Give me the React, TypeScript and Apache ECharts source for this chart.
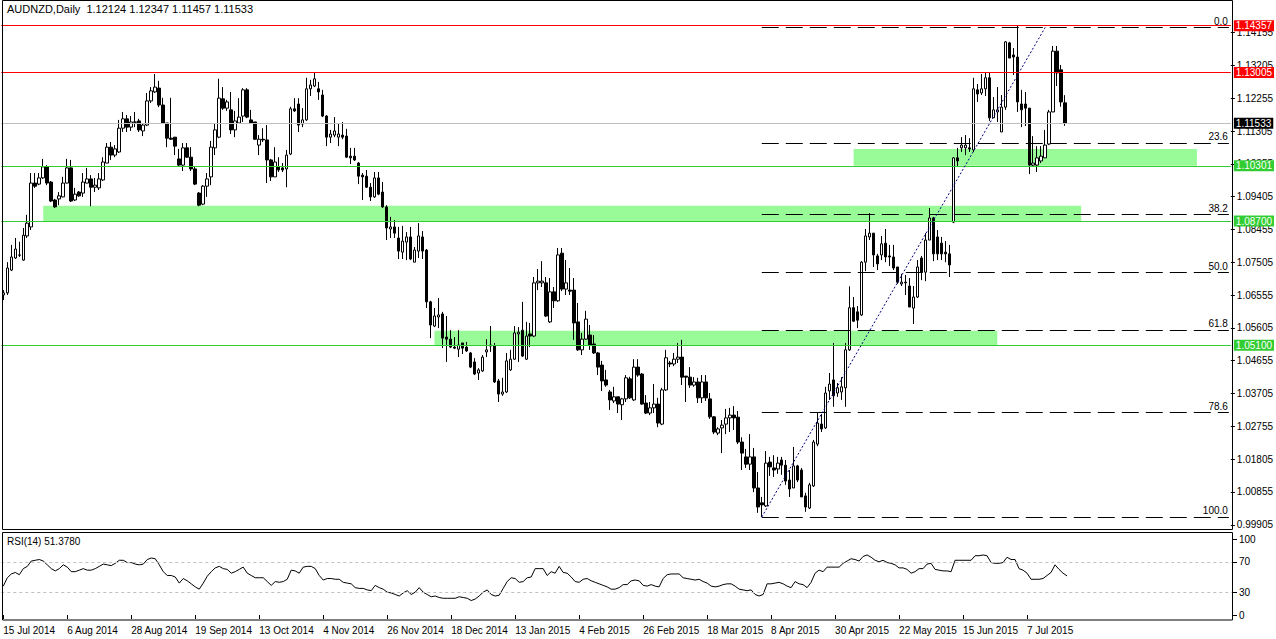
import React, { useEffect, useRef } from "react";
import * as echarts from "echarts";

const TITLE = "AUDNZD,Daily  1.12124 1.12347 1.11457 1.11533";
const RSI_TITLE = "RSI(14) 51.3780";

const open = [
  1.0656,1.0662,1.0728,1.0763,1.0771,1.0757,1.0827,1.0853,1.0980,1.0977,
  1.0995,1.1027,1.0983,1.0931,1.0934,1.0940,1.0980,1.1024,1.0931,1.0954,
  1.0951,1.0980,1.0992,1.0968,1.0966,1.0989,1.1038,1.1084,1.1061,1.1070,
  1.1139,1.1166,1.1142,1.1157,1.1160,1.1131,1.1148,1.1218,1.1244,1.1255,
  1.1206,1.1154,1.1110,1.1113,1.1050,1.1032,1.1082,1.1055,1.1021,1.0951,
  1.0919,1.0971,1.0998,1.1082,1.1113,1.1224,1.1197,1.1192,1.1134,1.1154,
  1.1174,1.1250,1.1163,1.1157,1.1090,1.1107,1.1105,1.1047,1.0998,1.1027,
  1.1024,1.1021,1.1064,1.1195,1.1209,1.1151,1.1163,1.1253,1.1261,1.1253,
  1.1235,1.1174,1.1113,1.1119,1.1113,1.1119,1.1116,1.1058,1.1058,1.1038,
  1.1003,1.1000,1.0968,1.0940,1.0995,1.0954,1.0911,1.0847,1.0853,1.0821,
  1.0780,1.0809,1.0824,1.0751,1.0783,1.0824,1.0786,1.0636,1.0566,1.0592,
  1.0601,1.0534,1.0528,1.0505,1.0499,1.0517,1.0505,1.0488,1.0462,1.0430,
  1.0436,1.0491,1.0508,1.0508,1.0407,1.0369,1.0375,1.0439,1.0470,1.0543,
  1.0554,1.0470,1.0543,1.0537,1.0691,1.0691,1.0691,1.0578,1.0665,1.0639,
  1.0777,1.0673,1.0670,1.0670,1.0578,1.0497,1.0528,1.0540,1.0514,1.0488,
  1.0453,1.0410,1.0375,1.0349,1.0361,1.0338,1.0355,1.0413,1.0352,1.0447,
  1.0427,1.0343,1.0314,1.0329,1.0340,1.0282,1.0381,1.0459,1.0456,1.0470,
  1.0476,1.0421,1.0418,1.0395,1.0404,1.0358,1.0404,1.0355,1.0303,1.0256,
  1.0271,1.0282,1.0300,1.0308,1.0302,1.0230,1.0187,1.0166,1.0187,1.0097,
  1.0054,1.0045,1.0172,1.0155,1.0152,1.0178,1.0163,1.0120,1.0097,1.0161,
  1.0149,1.0074,1.0039,1.0103,1.0224,1.0282,1.0271,1.0378,1.0410,1.0372,
  1.0375,1.0387,1.0497,1.0619,1.0607,1.0598,1.0751,1.0824,1.0835,1.0769,
  1.0772,1.0806,1.0769,1.0766,1.0737,1.0688,1.0693,1.0682,1.0618,1.0650,
  1.0763,1.0722,1.0815,1.0879,1.0824,1.0806,1.0780,1.0775,1.0867,1.1053,
  1.1082,1.1082,1.1082,1.1076,1.1250,1.1241,1.1253,1.1285,1.1169,1.1186,
  1.1128,1.1200,1.1386,1.1351,1.1345,1.1209,1.1209,1.1197,1.1032,1.1032,
  1.1044,1.1053,1.1093,1.1186,1.1362,1.1308,1.12124,
];

const high = [
  1.0670,1.0751,1.0801,1.0821,1.0810,1.0850,1.0888,1.1009,1.1009,1.1009,
  1.1050,1.1032,1.0986,1.0934,1.0954,1.0998,1.1050,1.1047,1.0966,1.0957,
  1.1009,1.1024,1.1003,1.0995,1.1009,1.1055,1.1096,1.1099,1.1090,1.1163,
  1.1186,1.1177,1.1174,1.1186,1.1166,1.1154,1.1241,1.1258,1.1296,1.1276,
  1.1227,1.1154,1.1227,1.1113,1.1079,1.1096,1.1096,1.1084,1.1027,1.0954,
  1.0974,1.1009,1.1102,1.1151,1.1282,1.1258,1.1221,1.1244,1.1189,1.1226,
  1.1255,1.1255,1.1192,1.1157,1.1119,1.1139,1.1148,1.1050,1.1084,1.1055,
  1.1038,1.1076,1.1201,1.1226,1.1226,1.1197,1.1285,1.1279,1.1299,1.1273,
  1.1250,1.1177,1.1134,1.1171,1.1151,1.1157,1.1137,1.1082,1.1082,1.1041,
  1.1009,1.1018,1.0980,1.1012,1.1012,1.0983,1.0916,1.0882,1.0873,1.0853,
  1.0856,1.0838,1.0853,1.0795,1.0864,1.0841,1.0789,1.0639,1.0618,1.0647,
  1.0607,1.0595,1.0554,1.0534,1.0554,1.0517,1.0520,1.0491,1.0473,1.0444,
  1.0482,1.0528,1.0566,1.0517,1.0413,1.0416,1.0488,1.0497,1.0566,1.0563,
  1.0636,1.0578,1.0575,1.0708,1.0731,1.0754,1.0708,1.0705,1.0679,1.0792,
  1.0792,1.0757,1.0734,1.0705,1.0633,1.0546,1.0610,1.0569,1.0540,1.0491,
  1.0465,1.0439,1.0381,1.0390,1.0361,1.0358,1.0424,1.0419,1.0470,1.0470,
  1.0430,1.0366,1.0346,1.0398,1.0358,1.0387,1.0497,1.0465,1.0488,1.0517,
  1.0526,1.0421,1.0447,1.0418,1.0416,1.0424,1.0424,1.0372,1.0305,1.0273,
  1.0294,1.0326,1.0329,1.0334,1.0320,1.0244,1.0210,1.0253,1.0213,1.0143,
  1.0071,1.0204,1.0187,1.0192,1.0187,1.0187,1.0178,1.0149,1.0216,1.0164,
  1.0155,1.0083,1.0112,1.0236,1.0314,1.0311,1.0390,1.0430,1.0517,1.0401,
  1.0418,1.0517,1.0681,1.0650,1.0624,1.0754,1.0847,1.0893,1.0835,1.0775,
  1.0827,1.0847,1.0801,1.0801,1.0737,1.0717,1.0714,1.0705,1.0682,1.0757,
  1.0769,1.0835,1.0908,1.0882,1.0844,1.0824,1.0812,1.0801,1.1055,1.1082,
  1.1113,1.1119,1.1110,1.1285,1.1267,1.1296,1.1299,1.1299,1.1229,1.1258,
  1.1235,1.1391,1.1389,1.1371,1.14357,1.1250,1.1244,1.1197,1.1116,1.1087,
  1.1087,1.1134,1.1192,1.1377,1.1377,1.1322,1.12347,
];

const low = [
  1.0641,1.0656,1.0725,1.0760,1.0766,1.0755,1.0821,1.0844,1.0966,1.0974,
  1.0992,1.0974,1.0925,1.0908,1.0916,1.0939,1.0979,1.0925,1.0928,1.0940,
  1.0940,1.0979,1.0913,1.0954,1.0960,1.0986,1.1038,1.1047,1.1055,1.1067,
  1.1128,1.1128,1.1131,1.1142,1.1128,1.1116,1.1145,1.1212,1.1241,1.1200,
  1.1151,1.1084,1.1105,1.1061,1.1029,1.1015,1.1053,1.1015,1.0974,1.0913,
  1.0916,1.0940,1.0974,1.1061,1.1110,1.1192,1.1189,1.1122,1.1113,1.1151,
  1.1157,1.1168,1.1154,1.1105,1.1061,1.1099,1.0980,1.0986,1.0998,1.1012,
  1.1012,1.0968,1.1061,1.1186,1.1128,1.1142,1.1160,1.1232,1.1258,1.1221,
  1.1171,1.1087,1.1096,1.1113,1.1087,1.1107,1.1053,1.1035,1.1044,1.0977,
  1.0931,1.0966,1.0928,1.0937,1.0945,1.0908,1.0815,1.0821,1.0821,1.0760,
  1.0760,1.0757,1.0757,1.0751,1.0763,1.0760,1.0618,1.0531,1.0563,1.0560,
  1.0502,1.0462,1.0502,1.0499,1.0476,1.0485,1.0491,1.0444,1.0424,1.0410,
  1.0433,1.0476,1.0491,1.0401,1.0346,1.0364,1.0372,1.0436,1.0468,1.0462,
  1.0476,1.0468,1.0505,1.0534,1.0670,1.0679,1.0592,1.0575,1.0618,1.0636,
  1.0667,1.0656,1.0656,1.0526,1.0494,1.0482,1.0526,1.0497,1.0485,1.0424,
  1.0378,1.0390,1.0323,1.0343,1.0314,1.0294,1.0346,1.0355,1.0349,1.0419,
  1.0338,1.0311,1.0308,1.0314,1.0273,1.0279,1.0378,1.0447,1.0450,1.0459,
  1.0395,1.0346,1.0387,1.0390,1.0343,1.0343,1.0349,1.0297,1.0253,1.0250,
  1.0198,1.0253,1.0259,1.0265,1.0224,1.0149,1.0155,1.0149,1.0085,1.0025,
  1.0013,1.0042,1.0132,1.0129,1.0138,1.0135,1.0106,1.0071,1.0097,1.0114,
  1.0071,1.0028,1.0036,1.0100,1.0218,1.0259,1.0268,1.0352,1.0332,1.0361,
  1.0352,1.0332,1.0494,1.0578,1.0560,1.0595,1.0725,1.0815,1.0737,1.0728,
  1.0757,1.0751,1.0740,1.0728,1.0688,1.0682,1.0656,1.0621,1.0572,1.0647,
  1.0699,1.0696,1.0815,1.0754,1.0757,1.0757,1.0751,1.0708,1.0864,1.1027,
  1.1070,1.1061,1.1070,1.1070,1.1215,1.1235,1.1232,1.1160,1.1169,1.1157,
  1.1128,1.1192,1.1342,1.1293,1.1186,1.1142,1.1145,1.1006,1.1027,1.1012,
  1.1038,1.1053,1.1090,1.1186,1.1261,1.1201,1.11457,
];

const close = [
  1.0662,1.0734,1.0766,1.0789,1.0772,1.0829,1.0864,1.0980,1.0971,1.0995,
  1.1027,1.0980,1.0928,1.0911,1.0943,1.0980,1.1024,1.0928,1.0948,1.0943,
  1.0983,1.0992,1.0968,1.0974,1.0992,1.1041,1.1084,1.1061,1.1079,1.1139,
  1.1166,1.1142,1.1157,1.1156,1.1134,1.1148,1.1218,1.1247,1.1258,1.1206,
  1.1154,1.1110,1.1107,1.1087,1.1032,1.1082,1.1055,1.1021,1.0977,1.0916,
  1.0971,1.0992,1.1084,1.1134,1.1226,1.1197,1.1215,1.1134,1.1160,1.1171,
  1.1250,1.1171,1.1154,1.1107,1.1107,1.1105,1.1047,1.0998,1.1041,1.1018,
  1.1018,1.1061,1.1195,1.1189,1.1148,1.1163,1.1253,1.1264,1.1282,1.1244,
  1.1174,1.1113,1.1122,1.1131,1.1122,1.1113,1.1055,1.1053,1.1047,1.1000,
  1.0998,1.0968,1.0940,1.0995,1.0948,1.0911,1.0850,1.0853,1.0835,1.0783,
  1.0812,1.0824,1.0760,1.0786,1.0827,1.0783,1.0636,1.0569,1.0595,1.0598,
  1.0531,1.0528,1.0505,1.0502,1.0511,1.0502,1.0494,1.0447,1.0427,1.0439,
  1.0476,1.0497,1.0511,1.0404,1.0369,1.0375,1.0465,1.0470,1.0546,1.0548,
  1.0479,1.0537,1.0537,1.0691,1.0696,1.0696,1.0595,1.0665,1.0639,1.0772,
  1.0673,1.0691,1.0667,1.0575,1.0497,1.0528,1.0586,1.0511,1.0488,1.0447,
  1.0407,1.0395,1.0352,1.0361,1.0340,1.0355,1.0416,1.0358,1.0447,1.0424,
  1.0340,1.0314,1.0329,1.0340,1.0285,1.0381,1.0474,1.0456,1.0470,1.0476,
  1.0418,1.0418,1.0395,1.0404,1.0358,1.0404,1.0358,1.0303,1.0259,1.0268,
  1.0279,1.0300,1.0308,1.0300,1.0230,1.0198,1.0166,1.0187,1.0097,1.0042,
  1.0048,1.0169,1.0158,1.0149,1.0169,1.0163,1.0117,1.0094,1.0161,1.0120,
  1.0071,1.0042,1.0106,1.0230,1.0285,1.0268,1.0372,1.0398,1.0364,1.0387,
  1.0390,1.0497,1.0619,1.0580,1.0583,1.0751,1.0827,1.0835,1.0772,1.0746,
  1.0804,1.0766,1.0766,1.0734,1.0693,1.0693,1.0691,1.0621,1.0650,1.0737,
  1.0722,1.0815,1.0879,1.0775,1.0775,1.0775,1.0775,1.0743,1.1053,1.1044,
  1.1090,1.1090,1.1079,1.1253,1.1238,1.1253,1.1285,1.1169,1.1192,1.1192,
  1.1200,1.1389,1.1342,1.1345,1.1215,1.1192,1.1197,1.1032,1.1038,1.1053,
  1.1058,1.1090,1.1186,1.1362,1.1299,1.1215,1.11533,
];

const rsi = [
  38,49,54,56,53,61,64,71,72,73,
  71,66,61,58,61,66,63,57,57,59,
  61,59,59,61,64,67,66,65,68,72,
  72,69,69,67,66,67,73,75,74,66,
  57,52,52,50,42,48,45,41,37,34,
  42,51,57,62,64,61,60,55,57,60,
  63,55,52,49,49,49,44,39,44,43,
  44,47,59,58,55,63,64,64,61,52,
  46,48,48,47,47,43,42,41,36,35,
  35,33,32,39,36,34,30,29,27,25,
  29,32,27,30,36,30,27,24,25,23,
  22,22,22,22,24,23,22,19,21,25,
  30,33,27,25,26,35,44,49,48,43,
  44,49,50,61,61,61,52,57,55,64,
  56,55,50,44,43,47,48,45,43,41,
  39,37,34,34,36,40,40,45,46,45,
  39,38,40,38,37,48,53,54,54,54,
  49,48,47,46,47,44,42,38,37,38,
  40,41,41,38,34,33,32,33,27,25,
  27,41,41,42,43,41,38,36,44,41,
  40,36,43,55,59,57,63,63,63,63,
  68,71,74,73,71,77,79,76,72,70,
  72,69,68,66,62,62,60,55,57,61,
  61,67,68,60,59,58,58,57,72,72,
  72,72,72,78,78,79,78,69,68,68,
  69,76,73,73,61,59,55,47,47,47,
  48,52,56,66,60,55,51.378,
];

const dateLabels = [
  "15 Jul 2014", "6 Aug 2014", "28 Aug 2014", "19 Sep 2014", "13 Oct 2014",
  "4 Nov 2014", "26 Nov 2014", "18 Dec 2014", "13 Jan 2015", "4 Feb 2015",
  "26 Feb 2015", "18 Mar 2015", "8 Apr 2015", "30 Apr 2015", "22 May 2015",
  "15 Jun 2015", "7 Jul 2015",
];
const LABEL_STEP = 16;
const SLOT_COUNT = 308;

const priceTicks = [
  0.99905, 1.00855, 1.01805, 1.02755, 1.03705, 1.04655, 1.05605, 1.06555,
  1.07505, 1.08455, 1.09405, 1.10355, 1.11305, 1.12255, 1.13205, 1.14155,
];
const rsiTicks = [0, 30, 70, 100];
const rsiLevels = [70, 30];

const PRICE_MIN = 0.99782;
const PRICE_MAX = 1.15044;

const levelPrices = [1.14357, 1.13005, 1.11533, 1.10301, 1.087, 1.051];
const levelKinds = ["resist", "resist", "current", "support", "support", "support"];

const zoneStart = [10, 213, 108];
const zoneEnd = [270, 299, 249];
const zoneTop = [1.0914, 1.1079, 1.0552];
const zoneBottom = [1.087, 1.103, 1.051];

const fibRatios = [0, 23.6, 38.2, 50, 61.8, 78.6, 100];
const fibHigh = 1.1431;
const fibLow = 1.0013;
const fibLowIndex = 190;
const fibHighIndex = 261;

const FONT = '"Liberation Sans", Arial, sans-serif';

const kindStyle: Record<string, { line: string; box: string }> = {
  resist: { line: "#ff0000", box: "#ff0000" },
  current: { line: "#c0c0c0", box: "#000000" },
  support: { line: "#32cd32", box: "#32cd32" },
};

function buildOption() {
  const slots = Array.from({ length: SLOT_COUNT }, (_, i) => String(i));
  const candles = open.map((o, i) => [o, close[i], low[i], high[i]]);

  const levelLines = levelPrices.map((p, i) => {
    const st = kindStyle[levelKinds[i]];
    return {
      yAxis: p,
      lineStyle: { color: st.line, width: 1, type: "solid" },
      label: {
        show: true,
        position: "end",
        distance: 3,
        formatter: p.toFixed(5),
        color: "#ffffff",
        backgroundColor: st.box,
        padding: [1, 2, 0, 2],
        fontSize: 10,
        lineHeight: 10,
        fontFamily: FONT,
      },
    };
  });

  const fibLines = fibRatios.map((r) => {
    const price = fibHigh - (r / 100) * (fibHigh - fibLow);
    return [
      {
        coord: [fibLowIndex, price],
        lineStyle: { color: "#000000", width: 1, type: [17, 7] },
        label: {
          show: true,
          position: "insideEndTop",
          distance: 1,
          formatter: r.toFixed(1),
          color: "#000000",
          fontSize: 10,
          fontFamily: FONT,
        },
      },
      { coord: [SLOT_COUNT - 1, price] },
    ];
  });

  const trend = [
    {
      coord: [fibLowIndex, fibLow],
      lineStyle: { color: "#000080", width: 1, type: [2, 2] },
      label: { show: false },
    },
    { coord: [fibHighIndex, fibHigh] },
  ];

  const zones = zoneStart.map((s, i) => [
    { xAxis: s, yAxis: zoneTop[i], itemStyle: { color: "#98fb98", opacity: 1 } },
    { xAxis: zoneEnd[i], yAxis: zoneBottom[i] },
  ]);

  const showLabel = (idx: number) =>
    idx % LABEL_STEP === 0 && idx / LABEL_STEP < dateLabels.length;

  return {
    animation: false,
    backgroundColor: "#ffffff",
    textStyle: { fontFamily: FONT },
    grid: [
      { left: 1.3, top: 2, width: 1231.7, height: 527 },
      { left: 1.3, top: 539, width: 1231.7, height: 76 },
    ],
    xAxis: [
      {
        type: "category",
        gridIndex: 0,
        data: slots,
        boundaryGap: true,
        axisLine: { show: false },
        axisTick: { show: false },
        axisLabel: { show: false },
        splitLine: { show: false },
      },
      {
        type: "category",
        gridIndex: 1,
        data: slots,
        boundaryGap: true,
        offset: 5,
        axisLine: { show: false },
        axisTick: {
          show: true,
          alignWithLabel: true,
          interval: (idx: number) => showLabel(idx),
          length: 4,
          lineStyle: { color: "#000000" },
        },
        axisLabel: {
          show: true,
          interval: (idx: number) => showLabel(idx),
          formatter: (_v: string, idx: number) =>
            showLabel(idx) ? dateLabels[idx / LABEL_STEP] : "",
          align: "left",
          margin: 5,
          color: "#000000",
          fontSize: 10,
          fontFamily: FONT,
        },
        splitLine: { show: false },
      },
    ],
    yAxis: [
      {
        type: "value",
        gridIndex: 0,
        position: "right",
        min: PRICE_MIN,
        max: PRICE_MAX,
        scale: true,
        splitLine: { show: false },
        axisLine: { show: false },
        axisTick: {
          show: true,
          length: 4,
          customValues: priceTicks,
          lineStyle: { color: "#000000" },
        },
        axisLabel: {
          show: true,
          customValues: priceTicks,
          formatter: (v: number) => v.toFixed(5),
          margin: 6,
          color: "#000000",
          fontSize: 10,
          fontFamily: FONT,
        },
      },
      {
        type: "value",
        gridIndex: 1,
        position: "right",
        min: 0,
        max: 100,
        splitLine: { show: false },
        axisLine: { show: false },
        axisTick: {
          show: true,
          length: 4,
          customValues: rsiTicks,
          lineStyle: { color: "#000000" },
        },
        axisLabel: {
          show: true,
          customValues: rsiTicks,
          formatter: (v: number) => String(v),
          margin: 6,
          color: "#000000",
          fontSize: 10,
          fontFamily: FONT,
        },
      },
    ],
    series: [
      {
        type: "candlestick",
        xAxisIndex: 0,
        yAxisIndex: 0,
        data: candles,
        barWidth: 3,
        itemStyle: {
          color: "#ffffff",
          color0: "#000000",
          borderColor: "#000000",
          borderColor0: "#000000",
          borderWidth: 1,
        },
        markArea: {
          silent: true,
          data: zones,
        },
        markLine: {
          silent: true,
          precision: 5,
          symbol: ["none", "none"],
          animation: false,
          data: [...levelLines, ...fibLines, trend],
        },
      },
      {
        type: "line",
        xAxisIndex: 1,
        yAxisIndex: 1,
        data: rsi,
        showSymbol: false,
        symbol: "none",
        lineStyle: { color: "#000000", width: 1 },
        markLine: {
          silent: true,
          symbol: ["none", "none"],
          animation: false,
          lineStyle: { color: "#c0c0c0", width: 1, type: [3, 3] },
          label: { show: false },
          data: rsiLevels.map((v) => ({ yAxis: v })),
        },
      },
    ],
    graphic: [
      {
        type: "rect",
        z: 100,
        silent: true,
        shape: { x: 2.5, y: 0.5, width: 1230, height: 529 },
        style: { fill: "none", stroke: "#000000", lineWidth: 1 },
      },
      {
        type: "rect",
        z: 100,
        silent: true,
        shape: { x: 2.5, y: 532.5, width: 1230, height: 87.5 },
        style: { fill: "none", stroke: "#000000", lineWidth: 1 },
      },
      {
        type: "text",
        z: 100,
        left: 7,
        top: 3,
        style: { text: TITLE, fill: "#000000", font: '11px "Liberation Sans", Arial, sans-serif' },
      },
      {
        type: "text",
        z: 100,
        left: 7,
        top: 536,
        style: { text: RSI_TITLE, fill: "#000000", font: '10px "Liberation Sans", Arial, sans-serif' },
      },
    ],
  };
}

export default function App() {
  const ref = useRef<HTMLDivElement>(null);
  useEffect(() => {
    if (!ref.current) return;
    const chart = echarts.init(ref.current, null, { renderer: "svg" });
    chart.setOption(buildOption() as any);
    return () => chart.dispose();
  }, []);
  return (
    <div
      ref={ref}
      style={{ position: "fixed", left: 0, top: 0, width: 1276, height: 639, background: "#ffffff" }}
    />
  );
}
